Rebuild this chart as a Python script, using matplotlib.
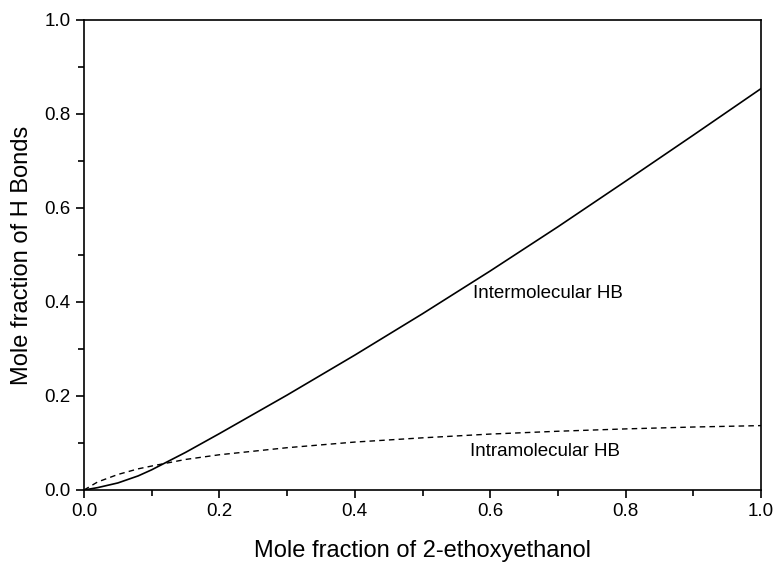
import matplotlib.pyplot as plt
import numpy as np
from matplotlib.ticker import MultipleLocator

plt.rcParams['font.family'] = ['Liberation Sans', 'DejaVu Sans']

# mole fraction of 2-ethoxyethanol
x_inter = [0.0, 0.02, 0.05, 0.08, 0.1, 0.15, 0.2, 0.3, 0.4, 0.5, 0.6, 0.7, 0.8, 0.9, 1.0]
inter_hb = [0.0, 0.005, 0.015, 0.03, 0.043, 0.08, 0.12, 0.202, 0.287, 0.375, 0.466, 0.56, 0.657, 0.755, 0.854]

x_intra = [0.0, 0.02, 0.05, 0.08, 0.1, 0.15, 0.2, 0.3, 0.4, 0.5, 0.6, 0.7, 0.8, 0.9, 1.0]
intra_hb = [0.0, 0.017, 0.033, 0.045, 0.051, 0.065, 0.075, 0.09, 0.102, 0.111, 0.119, 0.125, 0.13, 0.134, 0.137]

fig = plt.figure(figsize=(7.76, 5.63), dpi=100)
ax = fig.add_axes([84 / 776, 73 / 563, 677 / 776, 470 / 563])

ax.plot(x_inter, inter_hb, color='black', lw=1.2)
ax.plot(x_intra, intra_hb, color='black', lw=1.0, ls=(0, (4, 3)))

ax.text(0.685, 0.419, 'Intermolecular HB', ha='center', va='center', fontsize=13.5)
ax.text(0.681, 0.081, 'Intramolecular HB', ha='center', va='center', fontsize=13.5)

ax.set_xlim(0, 1)
ax.set_ylim(0, 1)
ax.xaxis.set_major_locator(MultipleLocator(0.2))
ax.xaxis.set_minor_locator(MultipleLocator(0.1))
ax.yaxis.set_major_locator(MultipleLocator(0.2))
ax.yaxis.set_minor_locator(MultipleLocator(0.1))
ax.xaxis.set_major_formatter(lambda v, p: f'{v:.1f}')
ax.yaxis.set_major_formatter(lambda v, p: f'{v:.1f}')
ax.tick_params(which='both', direction='out', top=False, right=False, width=1.2, labelsize=13.5)
ax.tick_params(which='major', length=6)
ax.tick_params(which='minor', length=4)
for s in ax.spines.values():
    s.set_linewidth(1.2)

ax.set_xlabel('Mole fraction of 2-ethoxyethanol', fontsize=17, labelpad=14)
ax.set_ylabel('Mole fraction of H Bonds', fontsize=17, labelpad=8)

fig.savefig('out.png', dpi=100)
